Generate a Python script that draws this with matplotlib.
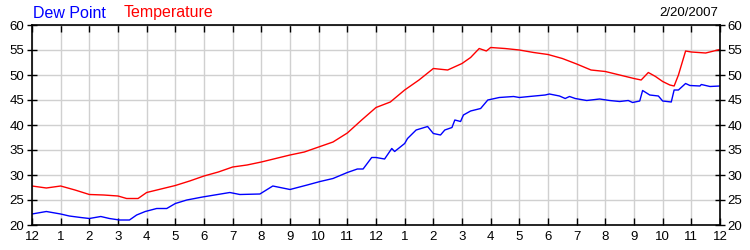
import matplotlib

matplotlib.use('Agg')
import matplotlib.pyplot as plt

plt.rcParams['font.family'] = ['Liberation Sans', 'DejaVu Sans']

# hours since midnight, temperature in F
temp_hours = [0, 0.5, 1, 1.5, 2, 2.5, 3, 3.3, 3.7, 4, 4.5, 5, 5.5, 6, 6.5, 7, 7.5,
              8, 8.5, 9, 9.5, 10, 10.5, 11, 11.5, 12, 12.5, 13, 13.5, 14, 14.5, 15,
              15.3, 15.6, 15.85, 16, 16.5, 17, 17.5, 18, 18.5, 19, 19.5, 20, 20.5,
              21, 21.25, 21.5, 21.75, 22, 22.25, 22.4, 22.55, 22.8, 23, 23.5, 24]
temp_vals = [27.8, 27.4, 27.8, 27.0, 26.1, 26.0, 25.8, 25.3, 25.3, 26.5, 27.2, 27.9,
             28.8, 29.8, 30.6, 31.6, 32.0, 32.6, 33.3, 34.0, 34.6, 35.6, 36.6, 38.4,
             41.0, 43.5, 44.6, 47.0, 49.0, 51.3, 51.0, 52.3, 53.5, 55.3, 54.8, 55.5,
             55.3, 55.0, 54.5, 54.1, 53.3, 52.2, 51.0, 50.7, 50.0, 49.3, 49.0, 50.5,
             49.7, 48.7, 48.0, 47.8, 50.0, 54.8, 54.6, 54.4, 55.1]

dew_hours = [0, 0.5, 1, 1.3, 1.7, 2, 2.4, 2.7, 3.05, 3.4,
             3.65, 3.95, 4.35, 4.7, 5, 5.4, 5.95, 6.9, 7.25, 7.95,
             8.4, 9, 9.6, 10.05, 10.5, 11, 11.35, 11.55, 11.85, 12,
             12.3, 12.55, 12.65, 13, 13.1, 13.4, 13.8, 14, 14.25, 14.4,
             14.65, 14.75, 14.95, 15.05, 15.3, 15.65, 15.9, 16.3, 16.8, 17,
             17.35, 17.9, 18.05, 18.4, 18.6, 18.75, 18.95, 19.35, 19.8, 20.15,
             20.5, 20.8, 20.95, 21.2, 21.3, 21.55, 21.85, 22, 22.3, 22.4,
             22.55, 22.8, 22.95, 23.3, 23.35, 23.65, 24]
dew_vals = [22.2, 22.7, 22.2, 21.8, 21.5, 21.3, 21.7, 21.3, 21.0, 21.0,
            22.0, 22.7, 23.3, 23.3, 24.3, 25.0, 25.6, 26.5, 26.1, 26.2,
            27.8, 27.1, 28.0, 28.7, 29.3, 30.5, 31.2, 31.2, 33.5, 33.5,
            33.2, 35.3, 34.7, 36.3, 37.3, 39.0, 39.7, 38.3, 38.0, 39.0,
            39.5, 41.0, 40.7, 42.0, 42.8, 43.3, 45.0, 45.5, 45.7, 45.5,
            45.7, 46.0, 46.2, 45.8, 45.3, 45.7, 45.3, 44.9, 45.2, 44.9,
            44.7, 44.9, 44.5, 44.8, 46.9, 46.0, 45.8, 44.8, 44.6, 47.0,
            47.0, 48.3, 47.9, 47.8, 48.1, 47.7, 47.8]

hour_ticks = list(range(25))
hour_labels = ['12', '1', '2', '3', '4', '5', '6', '7', '8', '9', '10', '11',
               '12', '1', '2', '3', '4', '5', '6', '7', '8', '9', '10', '11', '12']
y_ticks = [20, 25, 30, 35, 40, 45, 50, 55, 60]

fig = plt.figure(figsize=(7.5, 2.5), dpi=100)
fig.patch.set_facecolor('white')
ax = fig.add_axes([32 / 750, 0.1, 688 / 750, 0.8])

ax.plot(temp_hours, temp_vals, color='#ff0000', linewidth=1)
ax.plot(dew_hours, dew_vals, color='#0000ff', linewidth=1)

ax.set_xlim(0, 24)
ax.set_ylim(20, 60)
ax.set_xticks(hour_ticks)
ax.set_xticklabels(hour_labels)
ax.set_yticks(y_ticks)
ax.grid(True, color='#d0d0d0', linewidth=1)
ax.set_axisbelow(True)

for s in ax.spines.values():
    s.set_color('black')
    s.set_linewidth(1.2)

ax.tick_params(axis='x', direction='in', length=5, width=1, top=True, bottom=True,
               labelsize=9.5, pad=4, colors='black')
ax.tick_params(axis='y', direction='inout', length=7, width=1, left=True, right=True,
               labelleft=True, labelright=True, labelsize=9.5, pad=2, colors='black')

fig.text(33 / 750, 1 - 13 / 250, 'Dew Point', color='#0000ff', fontsize=11.5,
         va='center', ha='left')
fig.text(124 / 750, 1 - 13 / 250, 'Temperature', color='#ff0000', fontsize=11.5,
         va='center', ha='left')
fig.text(718 / 750, 1 - 13 / 250, '2/20/2007', color='black', fontsize=9.5,
         va='center', ha='right')

fig.savefig('out.png', dpi=100)
plt.close(fig)
